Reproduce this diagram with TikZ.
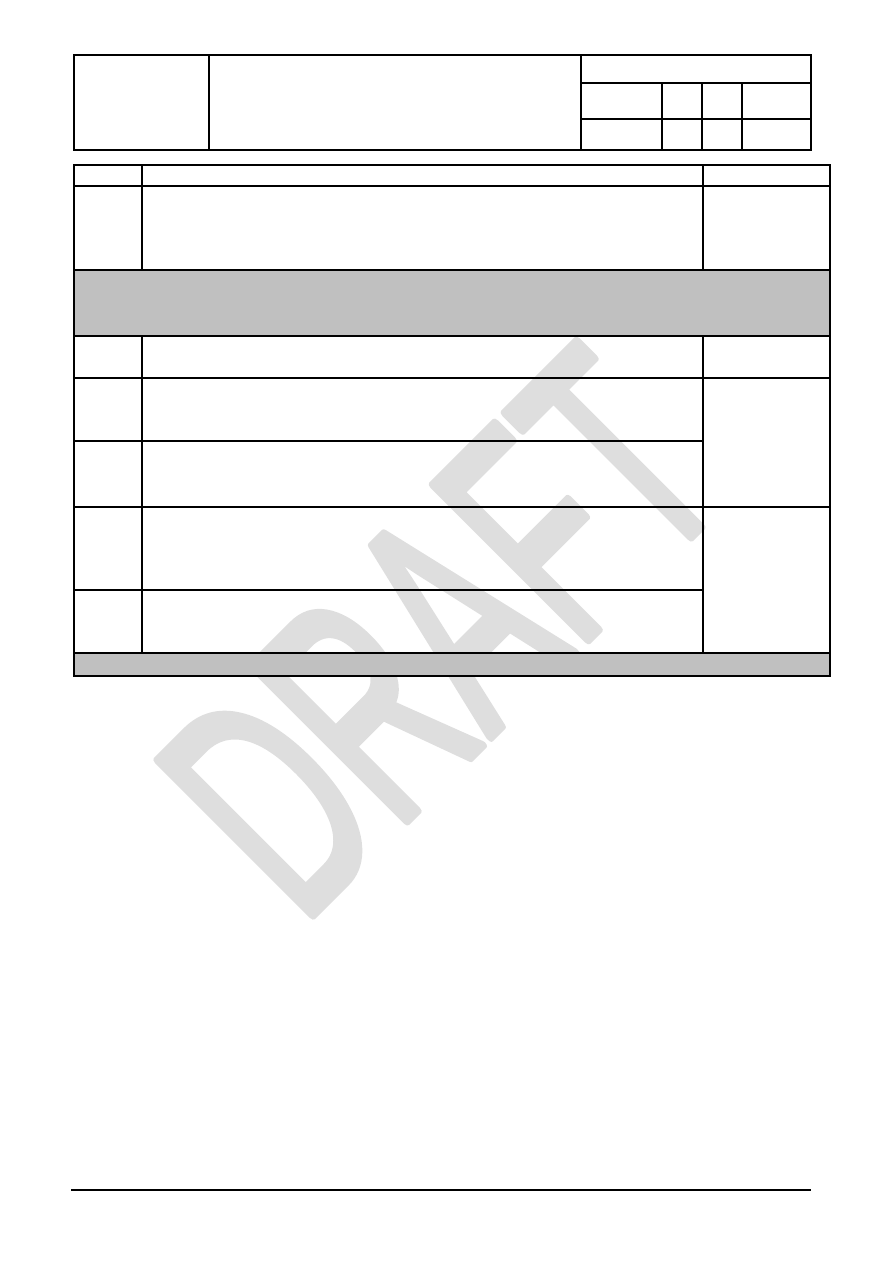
\documentclass[tikz,border=0pt]{standalone}
\usepackage{fontspec}
\usepackage{graphicx}
\newfontfamily\wmfont{Liberation Sans}
\definecolor{bandgray}{HTML}{C0C0C0}
\definecolor{wmgray}{HTML}{DEDEDE}
\newcommand{\wmstroke}[1]{\special{pdf:code 2 Tr 1 j 6 w}#1\special{pdf:code 0 Tr 0 j 1 w}}
\tikzset{
  rule/.style={line width=0.75pt, black},
  band/.style={fill=bandgray},
  watermark/.style={text=wmgray, inner sep=0pt, rotate=45,
    font=\wmfont\fontsize{212}{212}\selectfont}
}
\begin{document}
\begin{tikzpicture}[x=0.66661pt, y=-0.66661pt]
\useasboundingbox (0,0) rectangle (893,1263);
% watermark (behind everything)
\node[watermark] (wm) at (441,632) {\scalebox{0.58}[1]{\wmstroke{DRAFT}}};
% grey bands
\fill[band] (74,270) rectangle (830,336);
\fill[band] (74,653) rectangle (830,676);
% header block
\draw[rule] (74,55) rectangle (811,150);
\draw[rule] (209,55) -- (209,150);
\draw[rule] (581,55) -- (581,150);
\draw[rule] (581,83) -- (811,83);
\draw[rule] (581,119) -- (811,119);
\foreach \xx in {662,702,742} \draw[rule] (\xx,83) -- (\xx,150);
% main table
\draw[rule] (74,165) rectangle (830,676);
\foreach \yy in {186,270,336,378,507,653} \draw[rule] (74,\yy) -- (830,\yy);
\draw[rule] (74,441) -- (703,441);
\draw[rule] (74,590) -- (703,590);
\foreach \xx in {142,703} {
  \draw[rule] (\xx,165) -- (\xx,270);
  \draw[rule] (\xx,336) -- (\xx,653);
}
% footer rule
\draw[rule] (71,1190) -- (811,1190);
\end{tikzpicture}
\end{document}
